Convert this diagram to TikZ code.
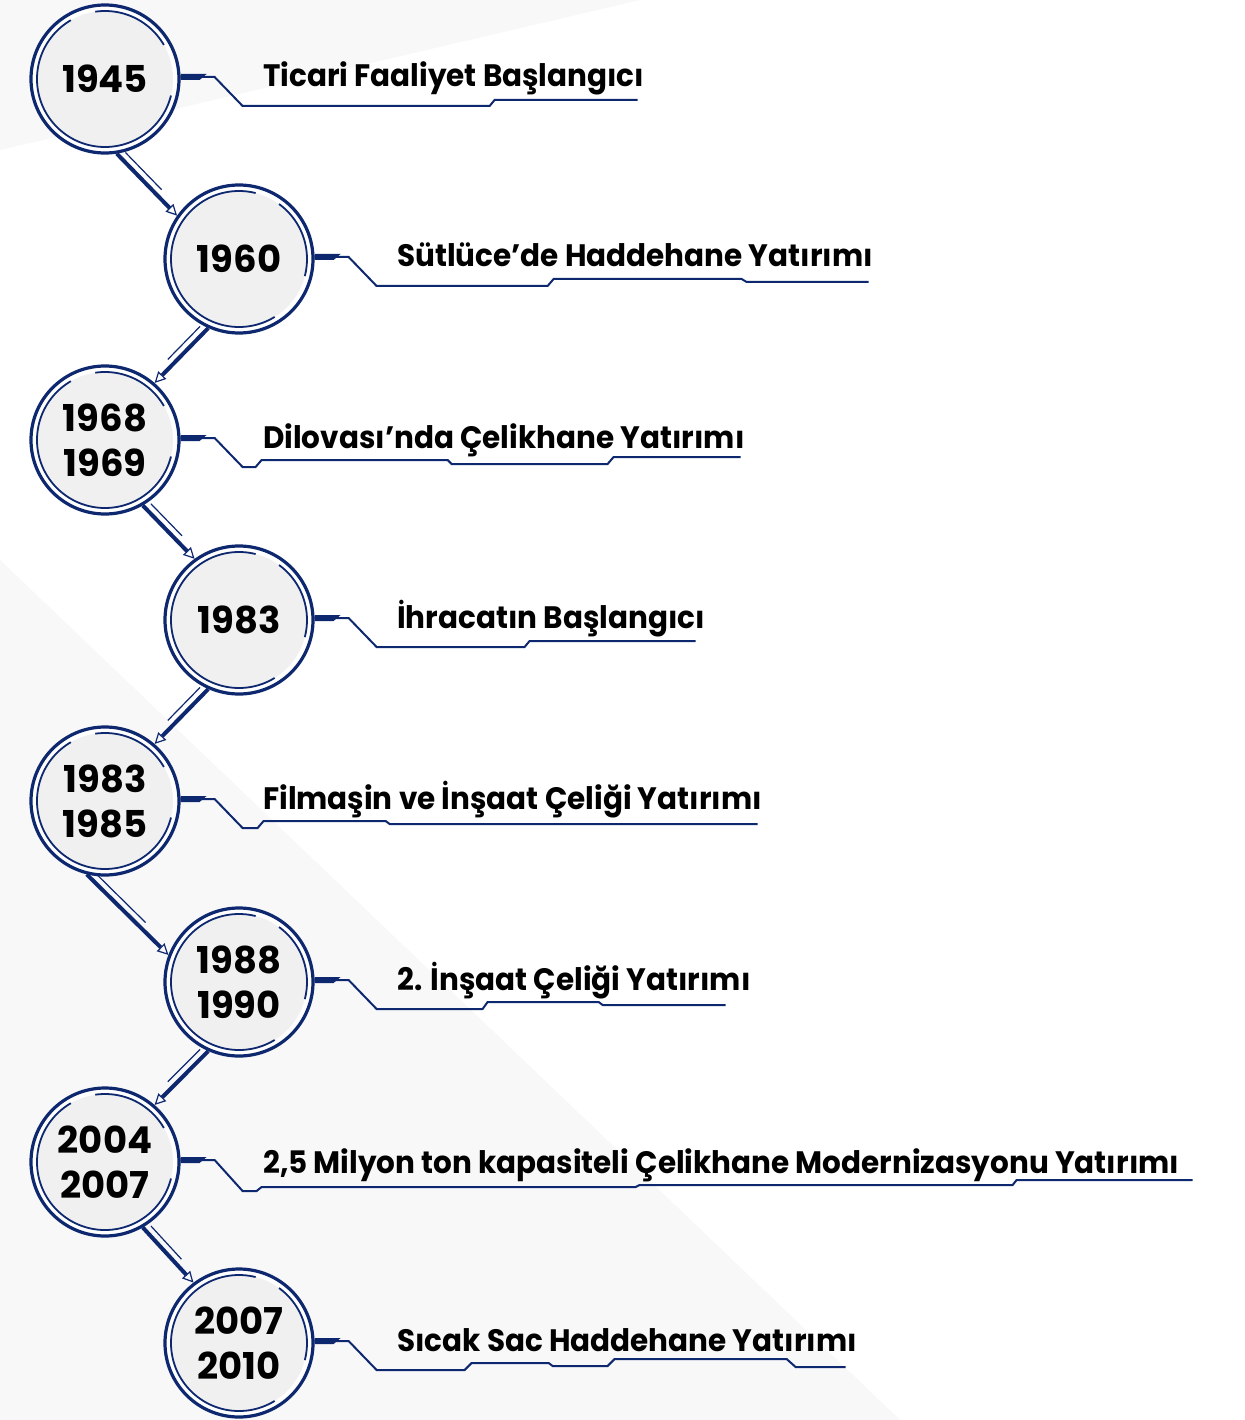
\documentclass[tikz,border=0pt]{standalone}
\usepackage{fontspec}
\setmainfont{Poppins}
\newfontfamily\yearfont{Poppins}
\newfontfamily\labelfont{Poppins}[FakeStretch=0.95]
\usetikzlibrary{arrows.meta}
\usetikzlibrary{calc}

\begin{document}
\begin{tikzpicture}[x=1pt,y=-1pt]
		\definecolor{navy}{RGB}{14,40,112}
		\definecolor{discgray}{RGB}{240,240,241}
		\definecolor{streak}{RGB}{248,248,249}

		\tikzset{
			ring/.style={draw=navy,line width=1.8pt},
			yearbox/.style={circle,draw=navy,line width=3.2pt,fill=white,minimum size=148pt,inner sep=0pt,align=center,
				font=\yearfont\bfseries\fontsize{37}{45}\selectfont,
				path picture={
					\fill[discgray] (path picture bounding box.center) circle[radius=68pt];
					\draw[ring,dash pattern=on 81pt off 26pt on 268pt off 52pt,dash phase=#1] (path picture bounding box.center) circle[radius=68pt];
				}},
			leftyear/.style={yearbox=391.4pt},
			rightyear/.style={yearbox=17pt},
			lbl/.style={anchor=base west,inner sep=0pt,font=\labelfont\bfseries\fontsize{31}{36}\selectfont},
			leader/.style={draw=navy,line width=2pt},
			link/.style={draw=navy,line width=4pt,-{Triangle[open,length=11pt,width=11pt,line width=1.2pt]}},
			linkthin/.style={draw=navy,line width=1.2pt}
		}

		\useasboundingbox (0,0) rectangle (1244,1420);
		\fill[white] (0,0) rectangle (1244,1420);
		\fill[streak] (0,560) -- (0,1420) -- (900,1420) -- cycle;
		\fill[streak] (0,0) -- (640,0) -- (0,150) -- cycle;

		% years
		\node[leftyear]  (c1) at (105,79)   {1945};
		\node[rightyear] (c2) at (239,259)  {1960};
		\node[leftyear]  (c3) at (105,440)  {1968\\1969};
		\node[rightyear] (c4) at (239,620)  {1983};
		\node[leftyear]  (c5) at (105,801)  {1983\\1985};
		\node[rightyear] (c6) at (239,982)  {1988\\1990};
		\node[leftyear]  (c7) at (105,1162) {2004\\2007};
		\node[rightyear] (c8) at (239,1343) {2007\\2010};

		% links between years
		\foreach \a/\b/\sa/\ea/\sd in {c1/c2/-81/145/90, c2/c3/-114/49/-90, c3/c4/-60/126/90, c4/c5/-114/49/-90,
			c5/c6/-104/159/90, c6/c7/-114/49/-90, c7/c8/-60/127/90}
		{
			\draw[link] (\a.\sa) -- (\b.\ea) coordinate[pos=0.06] (lp) coordinate[pos=0.66] (lq);
			\draw[linkthin] ($(lp)!7pt!\sd:(\b.\ea)$) -- ($(lq)!7pt!\sd:(\b.\ea)$);
		}

		% labels
		\node[lbl] (t1) at (263,87)   {Ticari Faaliyet Başlangıcı};
		\node[lbl] (t2) at (397,267)  {Sütlüce’de Haddehane Yatırımı};
		\node[lbl] (t3) at (263,448)  {Dilovası’nda Çelikhane Yatırımı};
		\node[lbl] (t4) at (397,628)  {İhracatın Başlangıcı};
		\node[lbl] (t5) at (263,809)  {Filmaşin ve İnşaat Çeliği Yatırımı};
		\node[lbl] (t6) at (397,990)  {2. İnşaat Çeliği Yatırımı};
		\node[lbl] (t7) at (263,1173) {2,5 Milyon ton kapasiteli Çelikhane Modernizasyonu Yatırımı};
		\node[lbl] (t8) at (397,1351) {Sıcak Sac Haddehane Yatırımı};

		% leaders
		\draw[leader] ([yshift=2pt]c1.east) -- ++(34,0) -- ++(28,29) -- ++(247,0) -- ++(5,-6) -- ++(143,0);
		\draw[leader] ([yshift=2pt]c2.east) -- ++(34,0) -- ++(28,29) -- ++(171,0) -- ++(6,-7) -- ++(188,0) -- ++(5,3) -- ++(122,0);
		\draw[leader] ([yshift=2pt]c3.east) -- ++(34,0) -- ++(28,29) -- ++(13,0) -- ++(6,-7) -- ++(186,0) -- ++(4,4) -- ++(156,0) -- ++(6,-7) -- ++(127,0);
		\draw[leader] ([yshift=2pt]c4.east) -- ++(34,0) -- ++(28,29) -- ++(148,0) -- ++(5,-6) -- ++(166,0);
		\draw[leader] ([yshift=2pt]c5.east) -- ++(34,0) -- ++(28,29) -- ++(15,0) -- ++(6,-7) -- ++(122,0) -- ++(4,3) -- ++(368,0);
		\draw[leader] ([yshift=2pt]c6.east) -- ++(34,0) -- ++(28,29) -- ++(106,0) -- ++(5,-7) -- ++(111,0) -- ++(4,3) -- ++(123,0);
		\draw[leader] ([yshift=2pt]c7.east) -- ++(34,0) -- ++(28,31) -- ++(14,0) -- ++(5,-4) -- ++(374,0) -- ++(4,-2) -- ++(373,0) -- ++(4,-5) -- ++(176,0);
		\draw[leader] ([yshift=2pt]c8.east) -- ++(34,0) -- ++(28,29) -- ++(88,0) -- ++(7,-7) -- ++(77,0) -- ++(4,3) -- ++(55,0) -- ++(7,-7) -- ++(172,0) -- ++(9,8) -- ++(50,0);

		% thick stubs
		\foreach \c in {c1,c2,c3,c4,c5,c6,c7,c8}
			\fill[navy] ([yshift=5pt]\c.east) -- ++(26,0) -- ++(-7,6) -- ++(-19,0) -- cycle;
\end{tikzpicture}
\end{document}
